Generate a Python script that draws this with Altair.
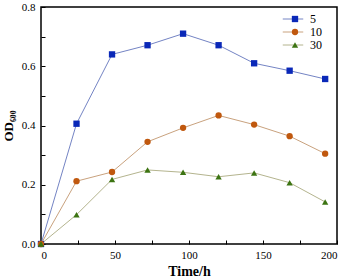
import altair as alt
import pandas as pd

time_h = [0, 24, 48, 72, 96, 120, 144, 168, 192]
od_5 = [0.0, 0.406, 0.640, 0.671, 0.710, 0.671, 0.610, 0.585, 0.557]
od_10 = [0.0, 0.212, 0.243, 0.345, 0.392, 0.434, 0.403, 0.364, 0.305]
od_30 = [0.0, 0.099, 0.218, 0.250, 0.242, 0.227, 0.240, 0.207, 0.142]
series = ["5", "10", "30"]
line_colors = ["#7484c4", "#c9a27e", "#b4b48e"]
marker_colors = ["#0a28b8", "#c0580e", "#3c7412"]
shapes = ["square", "circle", "triangle-up"]
x_ticks = [0, 25, 50, 75, 100, 125, 150, 175, 200]
y_ticks = [0, 0.1, 0.2, 0.3, 0.4, 0.5, 0.6, 0.7, 0.8]

series_l = [s + " " for s in series]
rows = []
for name, vals in zip(series, [od_5, od_10, od_30]):
    for t, v in zip(time_h, vals):
        rows.append({"t": t, "od": v, "s": name, "sl": name + " "})
df = pd.DataFrame(rows)

FONT = "Liberation Serif"
xs = alt.Scale(domain=[0, 200], nice=False)
ys = alt.Scale(domain=[0, 0.8], nice=False)

# labelled axes (no ticks)
x_main = alt.X("t:Q", scale=xs,
               axis=alt.Axis(values=x_ticks,
                             labelExpr="datum.value % 50 == 0 ? datum.label : ''",
                             title="Time/h", grid=False, domain=False, ticks=False,
                             labelPadding=5, titleFontWeight="bold", titleFontSize=14,
                             titlePadding=4))
y_main = alt.Y("od:Q", scale=ys,
               axis=alt.Axis(values=y_ticks,
                             labelExpr="round(datum.value*10) % 2 == 0 ? format(datum.value, '.1f') : ''",
                             title="OD₆₀₀", grid=False, domain=False, ticks=False,
                             labelPadding=6, titleFontWeight="bold", titleFontSize=13,
                             titlePadding=6))
# tick-only axes moved onto the opposite edges so ticks point inward
x_tick = alt.X("t:Q", scale=xs,
               axis=alt.Axis(values=x_ticks, orient="top", offset=-237, labels=False,
                             title=None, grid=False, domain=False, tickSize=4))
y_tick = alt.Y("od:Q", scale=ys,
               axis=alt.Axis(values=y_ticks, orient="right", offset=-296, labels=False,
                             title=None, grid=False, domain=False, tickSize=4))

lines = alt.Chart(df).mark_line(strokeWidth=1).encode(
    x=x_main, y=y_main,
    stroke=alt.Stroke("sl:N", sort=series_l, scale=alt.Scale(domain=series_l, range=line_colors),
                      legend=alt.Legend(orient="none", legendX=241, legendY=6, title=None,
                                        symbolType="stroke", symbolSize=420, symbolStrokeWidth=1,
                                        labelFontSize=12, labelFont=FONT, rowPadding=1,
                                        clipHeight=12, labelOffset=6, padding=0)),
    detail="s:N",
)
points = alt.Chart(df).mark_point(filled=True, size=40, opacity=1).encode(
    x=x_tick, y=y_tick,
    fill=alt.Fill("s:N", sort=series, scale=alt.Scale(domain=series, range=marker_colors),
                  legend=alt.Legend(orient="none", legendX=248, legendY=6, title=None,
                                    symbolSize=40, labelExpr="''", labelFontSize=12,
                                    rowPadding=1, clipHeight=12, labelOffset=0, padding=0)),
    shape=alt.Shape("s:N", sort=series, scale=alt.Scale(domain=series, range=shapes)),
)

chart = alt.layer(lines, points).resolve_axis(x="independent", y="independent").properties(
    width=296, height=237,
    autosize=alt.AutoSizeParams(type="none"),
    padding={"left": 41, "top": 7, "right": 13, "bottom": 36},
).configure(background="white").configure_view(
    stroke="black", strokeWidth=1.5
).configure_axis(
    labelFont=FONT, titleFont=FONT, labelFontSize=11, labelColor="black",
    titleColor="black", tickColor="black", tickWidth=1,
)

chart.save("out.html", embed_options={"renderer": "svg", "actions": False})
